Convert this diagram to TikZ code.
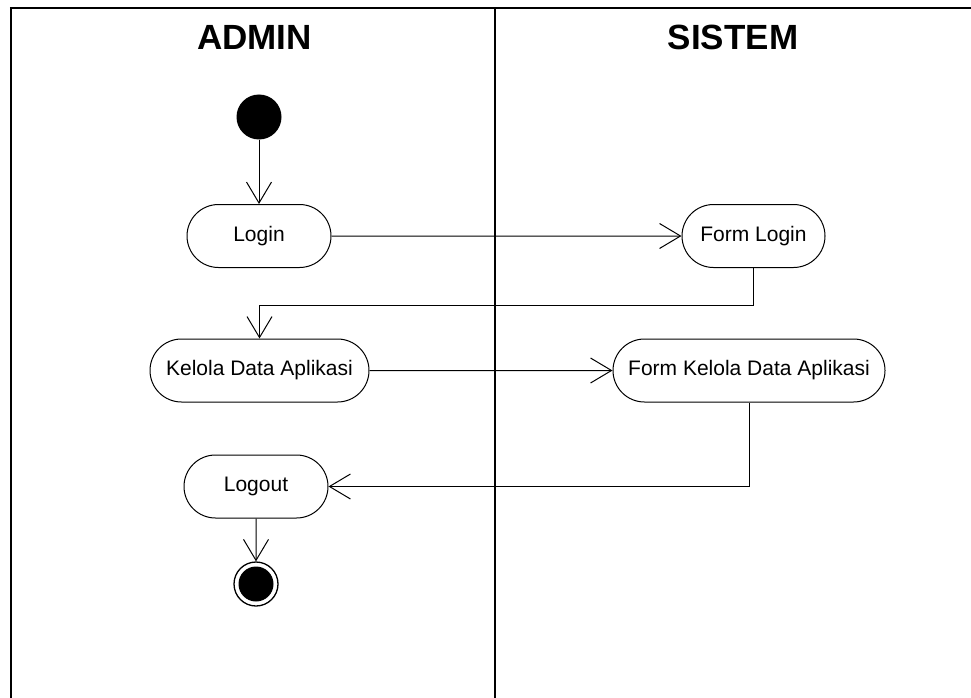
\documentclass[tikz,border=0pt]{standalone}
\usepackage{fontspec}
\setmainfont{Liberation Sans}
\usetikzlibrary{arrows.meta,shapes.misc}
\tikzset{
  act/.style={draw, line width=1pt, rounded rectangle, minimum height=63pt, inner sep=0pt,
    font=\fontsize{21}{25}\selectfont},
  lane/.style={line width=2.4pt},
  flow/.style={line width=1pt, -{Straight Barb[length=21pt,width=25pt,line width=1pt]}},
  title/.style={font=\fontsize{35}{40}\selectfont\bfseries}
}
\begin{document}
\begin{tikzpicture}[x=1pt,y=-1pt]
\useasboundingbox (0,0) rectangle (971,698);
\fill[white] (0,0) rectangle (971,698);
% swimlanes
\draw[lane] (9.8,8) -- (972,8);
\draw[lane] (11,8) -- (11,699);
\draw[lane] (495,8) -- (495,699);
\node[title] (tadmin) at (254.5,37) {ADMIN};
\node[title] (tsistem) at (733,37) {SISTEM};
% nodes
\node[circle, fill=black, minimum size=45pt, inner sep=0pt] (start) at (259,117) {};
\node[act, minimum width=144pt] (login) at (259,236) {Login};
\node[act, minimum width=143pt] (flogin) at (753.5,236) {Form Login};
\node[act, minimum width=219pt] (kelola) at (259.5,370.5) {Kelola Data Aplikasi};
\node[act, minimum width=272pt] (fkelola) at (749,370.5) {Form Kelola Data Aplikasi};
\node[act, minimum width=144pt] (logout) at (256,486.5) {Logout};
\node[circle, draw, line width=1.3pt, minimum size=44pt, inner sep=0pt] (end) at (256,584) {};
\node[circle, fill=black, minimum size=35pt, inner sep=0pt] (endin) at (end.center) {};
\coordinate (bend1) at (753.5,305);
% connectors
\draw[flow] (start) -- (login);
\draw[flow] (login) -- (flogin);
\draw[flow] (flogin.south) -- (bend1) -| (kelola.north);
\draw[flow] (kelola) -- (fkelola);
\draw[flow] (fkelola.south) |- (logout.east);
\draw[flow] (logout) -- (end);
\end{tikzpicture}
\end{document}
